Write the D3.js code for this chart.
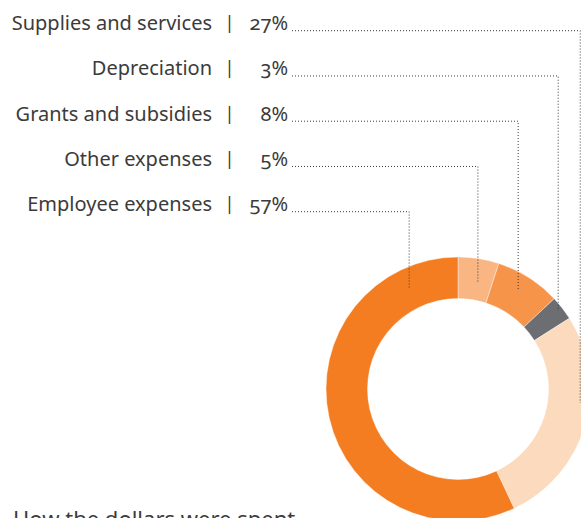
<!DOCTYPE html>
<html>
<head>
<meta charset="utf-8">
<script src="https://cdn.jsdelivr.net/npm/d3@7"></script>
<style>
  html, body { margin: 0; padding: 0; background: #fff; }
  svg { display: block; }
  text { font-family: "Noto Sans", "Open Sans", sans-serif; fill: #3b3b3b; }
  text.pct { font-variant-numeric: oldstyle-nums; font-feature-settings: "onum" 1; }
</style>
</head>
<body>
<svg id="chart" width="581" height="518"></svg>
<script>
// Expense categories, clockwise from 12 o'clock
const categories = ["Other expenses", "Grants and subsidies", "Depreciation", "Supplies and services", "Employee expenses"];
const shares = [5, 8, 3, 27, 57];
const colors = ["#f9b582", "#f69449", "#6d6e71", "#fcdabd", "#f47d22"];
// Order the labels are listed in, top to bottom
const labelOrder = ["Supplies and services", "Depreciation", "Grants and subsidies", "Other expenses", "Employee expenses"];
const title = "How the dollars were spent";

const svg = d3.select("#chart");

const cx = 458, cy = 389, rOuter = 132, rInner = 90.5;

const data = categories.map((c, i) => ({ name: c, value: shares[i], color: colors[i] }));

const pie = d3.pie().value(d => d.value).sort(null);
const arcs = pie(data);
const arc = d3.arc().innerRadius(rInner).outerRadius(rOuter);

const g = svg.append("g").attr("transform", `translate(${cx},${cy})`);
g.selectAll("path.slice")
  .data(arcs)
  .join("path")
  .attr("class", "slice")
  .attr("d", arc)
  .attr("fill", d => d.data.color)
  .attr("stroke", "#fff")
  .attr("stroke-width", 0.4);

// Where each leader line lands: fraction along the slice's angle span and radius
const anchors = {
  "Other expenses":        { t: 0.59, r: 108 },
  "Grants and subsidies":  { t: 0.46, r: 116 },
  "Depreciation":          { t: 0.49, r: 127 },
  "Supplies and services": { t: 0.40, r: 123 },
  "Employee expenses":     { t: 0.874, r: 112 }
};

const rowY = d3.scalePoint().domain(labelOrder).range([30, 211]);
const fmt = v => v + "%";

const labels = svg.append("g");
labelOrder.forEach(name => {
  const a = arcs.find(d => d.data.name === name);
  const y = rowY(name);
  labels.append("text")
    .attr("x", 212).attr("y", y)
    .attr("text-anchor", "end")
    .attr("font-size", 20)
    .text(name);
  labels.append("text")
    .attr("x", 229.5).attr("y", y - 1)
    .attr("text-anchor", "middle")
    .attr("font-size", 18)
    .text("|");
  labels.append("text")
    .attr("class", "pct")
    .attr("x", 288).attr("y", y)
    .attr("text-anchor", "end")
    .attr("font-size", 20)
    .text(fmt(a.data.value));

  // leader line: right along the row, then down into the slice
  const an = anchors[name];
  const ang = a.startAngle + (a.endAngle - a.startAngle) * an.t;
  const px = cx + an.r * Math.sin(ang);
  const py = cy - an.r * Math.cos(ang);
  const ly = y + 0.7;
  labels.append("path")
    .attr("d", `M292,${ly}H${px}V${py}`)
    .attr("fill", "none")
    .attr("stroke", "#3a3a3a")
    .attr("stroke-width", 1)
    .attr("stroke-dasharray", "1,2");
});

svg.append("text")
  .attr("x", 13).attr("y", 527)
  .attr("font-size", 22)
  .text(title);
</script>
</body>
</html>
